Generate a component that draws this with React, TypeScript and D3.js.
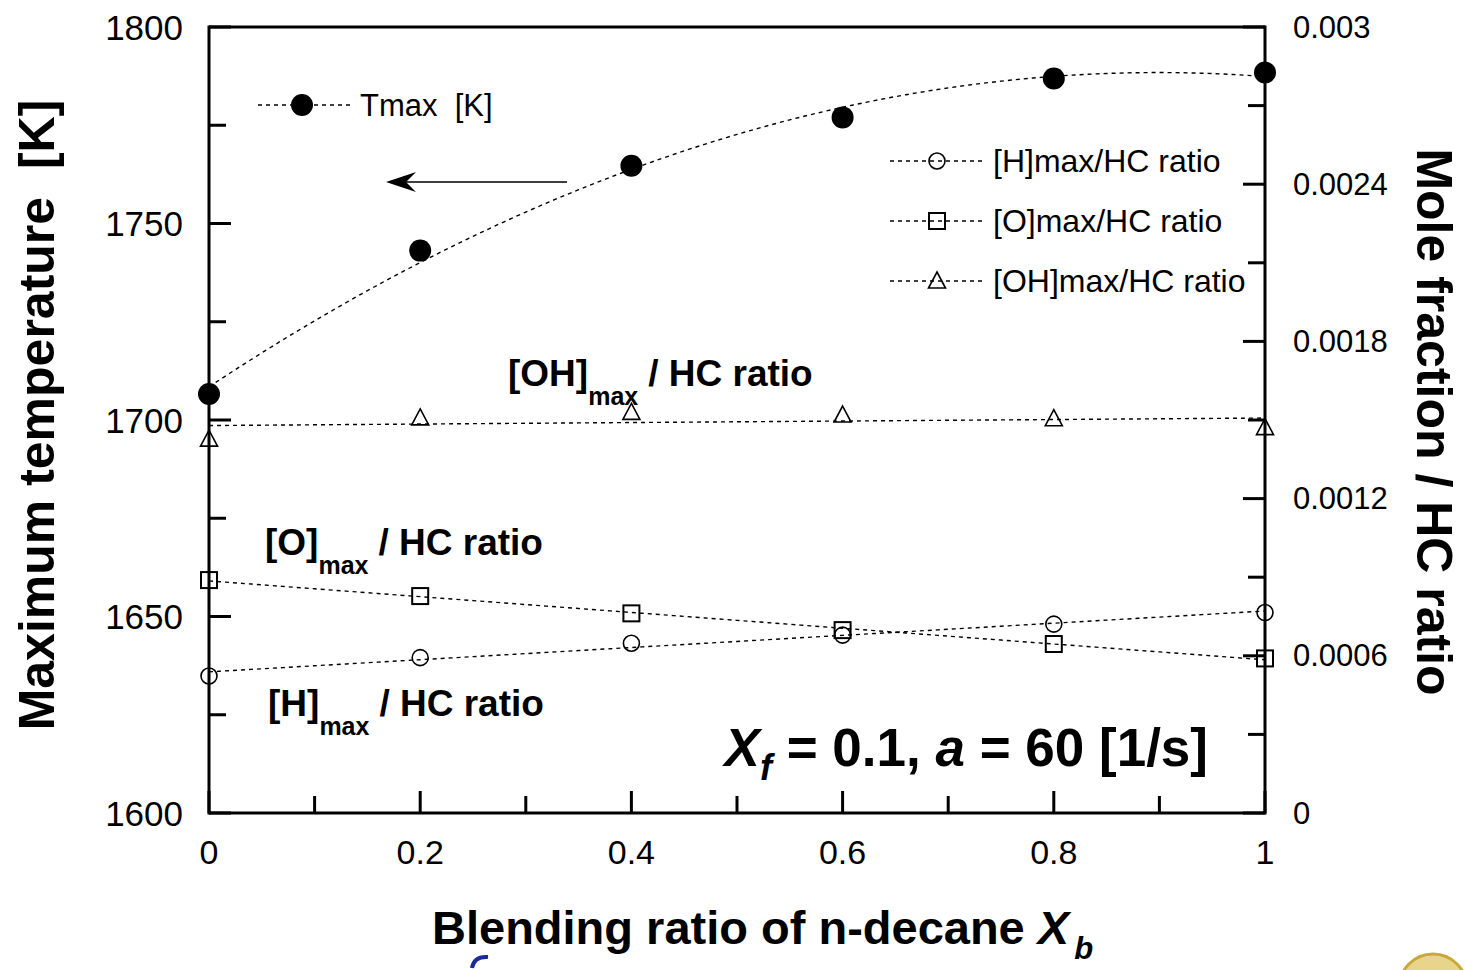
import React from 'react';
import * as d3 from 'd3';

// ---- data ----
const xValues = [0, 0.2, 0.4, 0.6, 0.8, 1.0];
const tmaxK = [1706.6, 1743.1, 1764.7, 1777.0, 1786.9, 1788.4];
const hRatio = [0.000523, 0.000593, 0.000648, 0.000679, 0.000721, 0.000765];
const oRatio = [0.000889, 0.000828, 0.000762, 0.000698, 0.000645, 0.00059];
const ohRatio = [0.001427, 0.001508, 0.001529, 0.001519, 0.001505, 0.001471];

const xMajorTicks = [0, 0.2, 0.4, 0.6, 0.8, 1];
const xTickLabels = ['0', '0.2', '0.4', '0.6', '0.8', '1'];
const xMinorTicks = [0.1, 0.3, 0.5, 0.7, 0.9];
const leftMajorTicks = [1600, 1650, 1700, 1750, 1800];
const leftMinorTicks = [1625, 1675, 1725, 1775];
const rightMajorTicks = [0, 0.0006, 0.0012, 0.0018, 0.0024, 0.003];
const rightTickLabels = ['0', '0.0006', '0.0012', '0.0018', '0.0024', '0.003'];
const rightMinorTicks = [0.0003, 0.0009, 0.0015, 0.0021, 0.0027];

// least-squares polynomial trend line (as drawn by the plotting program)
function polyfit(xs: number[], ys: number[], deg: number): number[] {
  const n = deg + 1;
  const A: number[][] = [];
  for (let r = 0; r < n; r++) {
    const row: number[] = [];
    for (let c = 0; c < n; c++) row.push(d3.sum(xs, (x) => Math.pow(x, r + c)));
    row.push(d3.sum(xs, (x, i) => Math.pow(x, r) * ys[i]));
    A.push(row);
  }
  for (let i = 0; i < n; i++) {
    let p = i;
    for (let k = i + 1; k < n; k++) if (Math.abs(A[k][i]) > Math.abs(A[p][i])) p = k;
    [A[i], A[p]] = [A[p], A[i]];
    for (let k = i + 1; k < n; k++) {
      const f = A[k][i] / A[i][i];
      for (let j = i; j <= n; j++) A[k][j] -= f * A[i][j];
    }
  }
  const coef = new Array(n).fill(0);
  for (let i = n - 1; i >= 0; i--) {
    let s = A[i][n];
    for (let j = i + 1; j < n; j++) s -= A[i][j] * coef[j];
    coef[i] = s / A[i][i];
  }
  return coef;
}
const evalPoly = (c: number[], x: number) => c.reduce((s, a, i) => s + a * Math.pow(x, i), 0);

const W = 1465;
const H = 970;
const L = 209, R = 1265, T = 27, B = 813;
const FONT = "'Liberation Sans', Arial, Helvetica, sans-serif";

const x = d3.scaleLinear().domain([0, 1]).range([L, R]);
const yL = d3.scaleLinear().domain([1600, 1800]).range([B, T]);
const yR = d3.scaleLinear().domain([0, 0.003]).range([B, T]);

const samples = d3.range(0, 1.0001, 0.01);

function trend(ys: number[], deg: number, scale: d3.ScaleLinear<number, number>) {
  const c = polyfit(xValues, ys, deg);
  return d3
    .line<number>()
    .x((t) => x(t))
    .y((t) => scale(evalPoly(c, t)))
    .curve(d3.curveLinear)(samples) as string;
}

const DASH = '4,4';

const Circle = ({ cx, cy }: { cx: number; cy: number }) => (
  <circle cx={cx} cy={cy} r={8} fill="none" stroke="#000" strokeWidth={1.6} />
);
const Square = ({ cx, cy }: { cx: number; cy: number }) => (
  <rect x={cx - 8} y={cy - 8} width={16} height={16} fill="none" stroke="#000" strokeWidth={2} />
);
const Tri = ({ cx, cy }: { cx: number; cy: number }) => (
  <path d={`M${cx},${cy - 9}L${cx + 8.5},${cy + 7}L${cx - 8.5},${cy + 7}Z`} fill="none" stroke="#000" strokeWidth={1.6} />
);

export default function App() {
  const tLine = trend(tmaxK, 2, yL);
  const hLine = trend(hRatio, 1, yR);
  const oLine = trend(oRatio, 1, yR);
  const ohLine = trend(ohRatio, 1, yR);

  const legend2 = [
    { y: 161, label: '[H]max/HC ratio', M: Circle },
    { y: 221, label: '[O]max/HC ratio', M: Square },
    { y: 281, label: '[OH]max/HC ratio', M: Tri },
  ];

  return (
    <svg
      width={W}
      height={H}
      viewBox={`0 0 ${W} ${H}`}
      style={{ position: 'absolute', left: 0, top: 0, display: 'block', background: '#fff' }}
      fontFamily={FONT}
    >
      <rect x={0} y={0} width={W} height={H} fill="#fff" />

      {/* trend lines */}
      <g fill="none" stroke="#000" strokeWidth={1.4} strokeDasharray={DASH}>
        <path d={tLine} />
        <path d={ohLine} />
        <path d={oLine} />
        <path d={hLine} />
      </g>

      {/* markers */}
      {xValues.map((v, i) => (
        <circle key={'t' + i} cx={x(v)} cy={yL(tmaxK[i])} r={11} fill="#000" />
      ))}
      {xValues.map((v, i) => (
        <Tri key={'oh' + i} cx={x(v)} cy={yR(ohRatio[i])} />
      ))}
      {xValues.map((v, i) => (
        <Square key={'o' + i} cx={x(v)} cy={yR(oRatio[i])} />
      ))}
      {xValues.map((v, i) => (
        <Circle key={'h' + i} cx={x(v)} cy={yR(hRatio[i])} />
      ))}

      {/* frame */}
      <g stroke="#000" strokeWidth={3} fill="none">
        <line x1={L} y1={T} x2={R} y2={T} />
        <line x1={L} y1={T - 1.5} x2={L} y2={B + 1.5} />
        <line x1={R} y1={T - 1.5} x2={R} y2={B + 1.5} />
        <line x1={L} y1={B} x2={R} y2={B} />
        {xMajorTicks.map((t) => (
          <line key={'xm' + t} x1={x(t)} x2={x(t)} y1={B} y2={B - 22} />
        ))}
        {xMinorTicks.map((t) => (
          <line key={'xn' + t} x1={x(t)} x2={x(t)} y1={B} y2={B - 17} />
        ))}
        {leftMajorTicks.map((t) => (
          <line key={'lm' + t} x1={L} x2={L + 22} y1={yL(t)} y2={yL(t)} />
        ))}
        {leftMinorTicks.map((t) => (
          <line key={'ln' + t} x1={L} x2={L + 17} y1={yL(t)} y2={yL(t)} />
        ))}
        {rightMajorTicks.map((t) => (
          <line key={'rm' + t} x1={R} x2={R - 22} y1={yR(t)} y2={yR(t)} />
        ))}
        {rightMinorTicks.map((t) => (
          <line key={'rn' + t} x1={R} x2={R - 17} y1={yR(t)} y2={yR(t)} />
        ))}
      </g>

      {/* tick labels */}
      <g fill="#000">
        {leftMajorTicks.map((t) => (
          <text key={'ll' + t} x={183} y={yL(t)} fontSize={35} textAnchor="end" dominantBaseline="central">
            {t}
          </text>
        ))}
        {rightMajorTicks.map((t, i) => (
          <text key={'rl' + t} x={1293} y={yR(t)} fontSize={31} textAnchor="start" dominantBaseline="central">
            {rightTickLabels[i]}
          </text>
        ))}
        {xMajorTicks.map((t, i) => (
          <text key={'xl' + t} x={x(t)} y={864} fontSize={34} textAnchor="middle">
            {xTickLabels[i]}
          </text>
        ))}
      </g>

      {/* axis titles */}
      <text
        transform={`translate(54,415) rotate(-90)`}
        textAnchor="middle"
        fontSize={50}
        fontWeight="bold"
      >
        Maximum temperature{'\u00a0\u00a0'}[K]
      </text>
      <text
        transform={`translate(1417,422) rotate(90)`}
        textAnchor="middle"
        fontSize={50}
        fontWeight="bold"
      >
        Mole fraction / HC ratio
      </text>
      <text x={432} y={944} fontSize={47} fontWeight="bold">
        Blending ratio of n-decane <tspan fontStyle="italic">X</tspan>
        <tspan fontStyle="italic" fontSize={31} dx={5} dy={15}>b</tspan>
      </text>

      {/* legend: Tmax */}
      <line x1={258} x2={350} y1={105} y2={105} stroke="#000" strokeWidth={1.4} strokeDasharray={DASH} />
      <circle cx={302} cy={105} r={11} fill="#000" />
      <text x={360} y={105} fontSize={31} dominantBaseline="central">
        Tmax{'\u00a0\u00a0'}[K]
      </text>

      {/* arrow */}
      <line x1={567} x2={392} y1={182} y2={182} stroke="#000" strokeWidth={1.5} />
      <path d="M386,182 L416,172 L406,182 L416,192 Z" fill="#000" />

      {/* legend: radicals */}
      {legend2.map(({ y, label, M }) => (
        <g key={label}>
          <line x1={890} x2={985} y1={y} y2={y} stroke="#000" strokeWidth={1.4} strokeDasharray={DASH} />
          <M cx={937} cy={y} />
          <text x={993} y={y} fontSize={32} dominantBaseline="central">
            {label}
          </text>
        </g>
      ))}

      {/* annotations */}
      <g fontWeight="bold" fontSize={37}>
        <text x={508} y={386}>
          [OH]<tspan fontSize={25} dy={19}>max</tspan>
          <tspan dy={-19} dx={10}>/ HC ratio</tspan>
        </text>
        <text x={265} y={555}>
          [O]<tspan fontSize={25} dy={19}>max</tspan>
          <tspan dy={-19} dx={10}>/ HC ratio</tspan>
        </text>
        <text x={268} y={716}>
          [H]<tspan fontSize={25} dy={19}>max</tspan>
          <tspan dy={-19} dx={10}>/ HC ratio</tspan>
        </text>
      </g>
      <text x={1208} y={766} textAnchor="end" fontWeight="bold" fontSize={53}>
        <tspan fontStyle="italic">X</tspan>
        <tspan fontStyle="italic" fontSize={36} dy={14}>f</tspan>
        <tspan dy={-14}> = 0.1, </tspan>
        <tspan fontStyle="italic">a</tspan>
        <tspan> = 60 [1/s]</tspan>
      </text>

      {/* decorative remnants at the bottom edge */}
      <path d="M472,968 Q474,956 488,957" fill="none" stroke="#1a2a9a" strokeWidth={4} />
      <circle cx={1433} cy={988} r={34} fill="#e8d48a" stroke="#c9a83a" strokeWidth={3} />
    </svg>
  );
}
